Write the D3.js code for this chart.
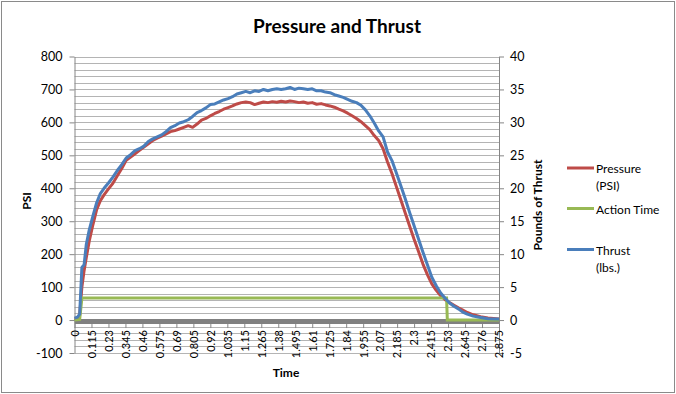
<!DOCTYPE html>
<html>
<head>
<meta charset="utf-8">
<script src="https://cdn.jsdelivr.net/npm/d3@7.9.0/dist/d3.min.js"></script>
<style>
  body { margin: 0; background: #fff; }
  svg { display: block; font-family: Lato, "Liberation Sans", sans-serif; }
</style>
</head>
<body>
<div id="chart"></div>
<script>
// time (s) of each sample
const times = [
  0, 0.02, 0.035, 0.05, 0.065, 0.08, 0.1, 0.125, 0.15, 0.175, 0.2,
  0.23, 0.26, 0.29, 0.32, 0.35, 0.38, 0.41, 0.44, 0.47, 0.5,
  0.53, 0.56, 0.59, 0.62, 0.65, 0.68, 0.71, 0.74, 0.77, 0.8,
  0.83, 0.86, 0.89, 0.92, 0.95, 0.98, 1.01, 1.04, 1.07, 1.1,
  1.13, 1.16, 1.19, 1.22, 1.25, 1.28, 1.31, 1.34, 1.37, 1.4,
  1.43, 1.46, 1.49, 1.52, 1.55, 1.58, 1.61, 1.64, 1.67, 1.7,
  1.73, 1.76, 1.79, 1.82, 1.85, 1.88, 1.91, 1.94, 1.97, 2.0,
  2.03, 2.06, 2.09, 2.12, 2.15, 2.18, 2.21, 2.24, 2.27, 2.3,
  2.33, 2.36, 2.39, 2.42, 2.45, 2.48, 2.51, 2.54, 2.57, 2.6,
  2.63, 2.66, 2.7, 2.75, 2.8, 2.875
];

// Pressure (PSI), left axis
const pressure = [
  5, 5, 15, 100, 150, 190, 240, 290, 335, 362, 380,
  398, 415, 438, 460, 485, 495, 505, 515, 525, 535,
  545, 552, 558, 565, 572, 575, 580, 585, 590, 585,
  595, 607, 612, 620, 627, 633, 640, 645, 650, 656,
  660, 662, 660, 654, 658, 662, 660, 663, 661, 664,
  662, 665, 663, 660, 662, 658, 660, 655, 657, 653,
  650, 646, 640, 635, 628, 620, 612, 602, 590, 578,
  560, 545, 520, 480, 445, 405, 365, 325, 285, 245,
  208, 170, 138, 110, 90, 74, 62, 53, 45, 37,
  30, 23, 16, 10, 6, 3
];

// Thrust (lbs.), right axis
const thrust = [
  0.3, 0.45, 0.9, 8.0, 8.4, 11.5, 13.7, 15.8, 17.8, 19.2, 20.0,
  20.8, 21.7, 22.7, 23.6, 24.6, 25.1, 25.7, 26.0, 26.4, 27.1,
  27.5, 27.8, 28.1, 28.6, 29.2, 29.5, 29.9, 30.1, 30.4, 30.9,
  31.5, 31.8, 32.2, 32.7, 32.8, 33.1, 33.4, 33.6, 33.9, 34.3,
  34.5, 34.7, 34.5, 34.8, 34.7, 35.0, 34.8, 35.0, 35.1, 35.0,
  35.1, 35.3, 35.0, 35.2, 35.1, 35.0, 35.1, 34.8, 34.8, 34.6,
  34.5, 34.2, 34.0, 33.8, 33.5, 33.2, 33.0, 32.6, 31.9, 31.0,
  29.9, 28.7, 27.8, 25.5, 24.2, 22.3, 20.4, 18.4, 16.3, 14.3,
  12.3, 10.3, 8.4, 6.5, 5.2, 4.1, 3.3, 2.6, 2.1, 1.7,
  1.2, 0.9, 0.6, 0.4, 0.2, 0.15
];

// Action time marker (PSI)
const actionTimes = [0, 0.035, 0.05, 2.52, 2.525, 2.875];
const actionValues = [0, 2, 67, 67, 0, 0];

const timeTicks = d3.range(26).map(i => +(i * 0.115).toFixed(3));
const psiTicks = d3.range(-100, 801, 100);
const lbsTicks = d3.range(-5, 41, 5);

const legendItems = [
  { lines: ["Pressure", "(PSI)"], color: "#BE4B48" },
  { lines: ["Action Time"], color: "#98B954" },
  { lines: ["Thrust", "(lbs.)"], color: "#4A7EBB" }
];

const width = 676;
const height = 394;
const plot = { left: 74.5, right: 499, top: 56.5, bottom: 353 };

const svg = d3.select("#chart")
  .append("svg")
  .attr("width", width)
  .attr("height", height);

svg.append("rect")
  .attr("x", 1.5).attr("y", 1.5)
  .attr("width", width - 3).attr("height", height - 3)
  .attr("fill", "#fff")
  .attr("stroke", "#8a8a8a");

const x = d3.scaleLinear().domain([0, 2.875]).range([plot.left, plot.right]);
const yL = d3.scaleLinear().domain([-100, 800]).range([plot.bottom, plot.top]);
const yR = d3.scaleLinear().domain([-5, 40]).range([plot.bottom, plot.top]);

// gridlines (every 20 PSI)
svg.append("g")
  .selectAll("line")
  .data(d3.range(-100, 801, 20))
  .join("line")
  .attr("x1", plot.left)
  .attr("x2", plot.right)
  .attr("y1", d => Math.round(yL(d)) + 0.5)
  .attr("y2", d => Math.round(yL(d)) + 0.5)
  .attr("stroke", "#b4b4b4")
  .attr("stroke-width", 1);

// left axis
const left = svg.append("g")
  .attr("transform", `translate(${plot.left},0)`)
  .call(d3.axisLeft(yL).tickValues(psiTicks).tickFormat(d => String(d))
    .tickSize(5).tickSizeOuter(0).tickPadding(7));

// right axis
const right = svg.append("g")
  .attr("transform", `translate(${plot.right},0)`)
  .call(d3.axisRight(yR).tickValues(lbsTicks).tickFormat(d => String(d))
    .tickSize(5).tickSizeOuter(0).tickPadding(6));

[left, right].forEach(g => {
  g.select(".domain").attr("stroke", "#868686");
  g.selectAll(".tick line").attr("stroke", "#868686");
  g.selectAll("text").attr("font-size", 12.5).attr("fill", "#000")
    .style("font-family", "Lato, sans-serif");
});

// thick grey zero band
svg.append("line")
  .attr("x1", plot.left).attr("x2", plot.right)
  .attr("y1", yL(0) + 1.5).attr("y2", yL(0) + 1.5)
  .attr("stroke", "#808080")
  .attr("stroke-width", 5);

// x axis (time labels)
const bottom = svg.append("g")
  .attr("transform", `translate(0,${yL(0) + 4})`)
  .call(d3.axisBottom(x).tickValues(timeTicks).tickFormat(d => String(d)).tickSize(4).tickSizeOuter(0));
bottom.select(".domain").remove();
bottom.selectAll(".tick line").attr("stroke", "#868686");
bottom.selectAll("text")
  .attr("transform", "rotate(-90)")
  .attr("text-anchor", "end")
  .attr("x", -6)
  .attr("y", 0)
  .attr("dy", "0.35em")
  .attr("font-size", 11)
  .attr("fill", "#000")
  .style("font-family", "Lato, sans-serif");

// series
const pressureLine = d3.line().x((d, i) => x(times[i])).y(d => yL(d));
const thrustLine = d3.line().x((d, i) => x(times[i])).y(d => yR(d));
const actionLine = d3.line().x((d, i) => x(actionTimes[i])).y(d => yL(d));

svg.append("path")
  .datum(pressure)
  .attr("d", pressureLine)
  .attr("fill", "none")
  .attr("stroke", "#BE4B48")
  .attr("stroke-width", 3)
  .attr("stroke-linejoin", "round");

svg.append("path")
  .datum(actionValues)
  .attr("d", actionLine)
  .attr("fill", "none")
  .attr("stroke", "#98B954")
  .attr("stroke-width", 3);

svg.append("path")
  .datum(thrust)
  .attr("d", thrustLine)
  .attr("fill", "none")
  .attr("stroke", "#4A7EBB")
  .attr("stroke-width", 3)
  .attr("stroke-linejoin", "round");

// titles
svg.append("text")
  .attr("x", 337).attr("y", 33)
  .attr("text-anchor", "middle")
  .attr("font-size", 19)
  .attr("font-weight", "bold")
  .text("Pressure and Thrust");

svg.append("text")
  .attr("transform", "translate(31,201) rotate(-90)")
  .attr("text-anchor", "middle")
  .attr("font-size", 12)
  .attr("font-weight", "bold")
  .text("PSI");

svg.append("text")
  .attr("x", 286).attr("y", 377)
  .attr("text-anchor", "middle")
  .attr("font-size", 12)
  .attr("font-weight", "bold")
  .text("Time");

svg.append("text")
  .attr("transform", "translate(542,205) rotate(-90)")
  .attr("text-anchor", "middle")
  .attr("font-size", 12)
  .attr("font-weight", "bold")
  .text("Pounds of Thrust");

// legend
const legendY = [168, 208.5, 249.5];
const legend = svg.append("g");
legendItems.forEach((item, i) => {
  const y = legendY[i];
  legend.append("line")
    .attr("x1", 567).attr("x2", 594)
    .attr("y1", y).attr("y2", y)
    .attr("stroke", item.color)
    .attr("stroke-width", 3);
  item.lines.forEach((t, j) => {
    legend.append("text")
      .attr("x", 596)
      .attr("y", y + 5 + j * 17)
      .attr("font-size", 12)
      .text(t);
  });
});
</script>
</body>
</html>
